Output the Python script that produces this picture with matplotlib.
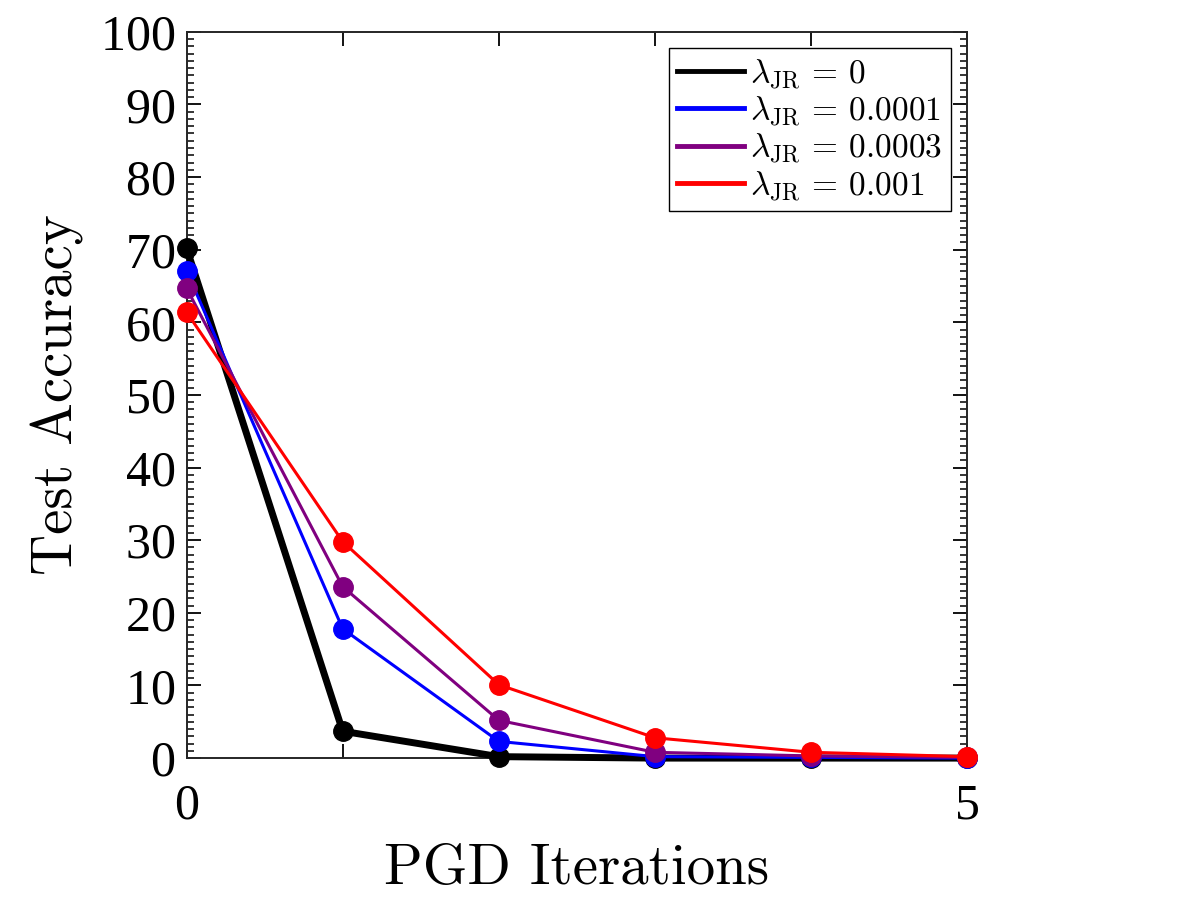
import numpy as np
import matplotlib
matplotlib.use("Agg")
import matplotlib.pyplot as plt
from matplotlib.ticker import MultipleLocator

plt.rcParams['font.family'] = 'serif'
plt.rcParams['font.serif'] = ['cmr10', 'DejaVu Serif']
plt.rcParams['mathtext.fontset'] = 'cm'
plt.rcParams['axes.formatter.use_mathtext'] = True

# PGD iteration count
iters = [0, 1, 2, 3, 4, 5]

# test accuracy per regularisation strength
acc_0 = [70.2, 3.7, 0.2, 0.0, 0.0, 0.0]
acc_1e4 = [67.1, 17.8, 2.3, 0.2, 0.1, 0.0]
acc_3e4 = [64.7, 23.6, 5.2, 0.8, 0.3, 0.1]
acc_1e3 = [61.4, 29.8, 10.1, 2.8, 0.8, 0.2]

labels = [r'$\lambda_{\rm JR}$ = 0', r'$\lambda_{\rm JR}$ = 0.0001',
          r'$\lambda_{\rm JR}$ = 0.0003', r'$\lambda_{\rm JR}$ = 0.001']

fig = plt.figure(figsize=(11.81, 9.09), dpi=100)
ax = fig.add_axes([0.158, 0.166, 0.661, 0.799])

ax.plot(iters, acc_0, '-o', color='black', lw=5, ms=14, label=labels[0], clip_on=False, zorder=3)
ax.plot(iters, acc_1e4, '-o', color='blue', lw=2.2, ms=14, label=labels[1], clip_on=False, zorder=3)
ax.plot(iters, acc_3e4, '-o', color='purple', lw=2.2, ms=14, label=labels[2], clip_on=False, zorder=3)
ax.plot(iters, acc_1e3, '-o', color='red', lw=2.2, ms=14, label=labels[3], clip_on=False, zorder=3)

ax.set_xlim(0, 5)
ax.set_ylim(0, 100)
ax.set_xticks(iters)
ax.set_xticklabels(['0', '', '', '', '', '5'])
ax.yaxis.set_major_locator(MultipleLocator(10))
ax.yaxis.set_minor_locator(MultipleLocator(1))
ax.tick_params(axis='both', which='major', direction='in', length=10, width=1.3,
               top=True, right=True, labelsize=36, pad=8)
ax.tick_params(axis='x', which='major', pad=18)
ax.tick_params(axis='y', which='minor', direction='in', length=5, width=1.1,
               left=True, right=True)
for t in ax.get_xticklabels() + ax.get_yticklabels():
    t.set_fontfamily('Liberation Serif')
for s in ax.spines.values():
    s.set_linewidth(1.4)
    s.set_color('#262626')

ax.set_xlabel('PGD Iterations', fontsize=41, labelpad=10)
ax.set_ylabel('Test Accuracy', fontsize=41, labelpad=12)

leg = ax.legend(loc='upper right', fontsize=24, fancybox=False, framealpha=1,
                edgecolor='black', handlelength=2.0, handletextpad=0.2,
                borderpad=0.25, labelspacing=0.1, borderaxespad=0.5)
leg.get_frame().set_linewidth(1.0)
leg.set_zorder(5)
for h in leg.legend_handles:
    h.set_marker('')
    h.set_linewidth(3.5)

fig.savefig('out.png', dpi=100)
